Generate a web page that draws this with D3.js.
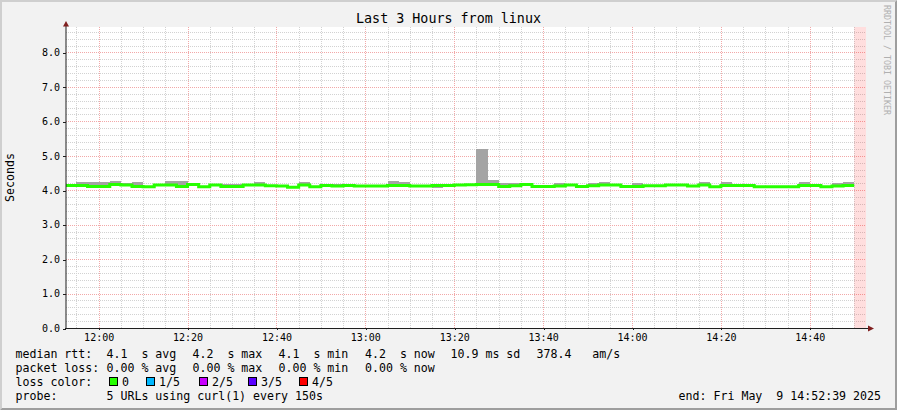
<!DOCTYPE html>
<html><head><meta charset="utf-8">
<script src="https://cdn.jsdelivr.net/npm/d3@7"></script>
<style>
html,body{margin:0;padding:0;background:#f2f2f2;}
svg{display:block;}
text{font-family:"DejaVu Sans Mono",monospace;}
</style></head><body>
<svg id="chart" width="897" height="410"></svg>
<script>
// ---------------- data ----------------
const chartTitle = "Last 3 Hours from linux";
const yAxisTitle = "Seconds";
const watermark = "RRDTOOL / TOBI OETIKER";
const rangeStart = "2025-05-09 11:52:39";
const rangeEnd = "2025-05-09 14:52:39";
const firstStepStart = "2025-05-09 11:52:30";
const stepSeconds = 150;
const unknownFrom = "2025-05-09 14:50:00";

// median rtt per 150 s step (seconds)
const medianRtt = [
  4.14,4.14,4.11,4.11,4.17,4.15,4.11,4.10,4.15,4.15,
  4.11,4.17,4.10,4.15,4.11,4.11,4.15,4.15,4.13,4.12,
  4.09,4.15,4.10,4.14,4.12,4.14,4.12,4.12,4.12,4.14,
  4.14,4.12,4.12,4.14,4.14,4.15,4.16,4.17,4.17,4.11,
  4.13,4.17,4.11,4.11,4.12,4.15,4.11,4.13,4.15,4.15,
  4.11,4.11,4.13,4.13,4.15,4.15,4.12,4.15,4.10,4.14,
  4.14,4.14,4.10,4.10,4.10,4.10,4.14,4.14,4.10,4.12,
  4.14
];
// smoke: highest and lowest rtt of the 5 probes per step
const smokeMax = [
  4.14,4.25,4.25,4.25,4.28,4.20,4.25,4.10,4.15,4.28,
  4.28,4.17,4.10,4.15,4.19,4.19,4.15,4.24,4.13,4.12,
  4.09,4.24,4.10,4.14,4.17,4.14,4.12,4.12,4.12,4.27,
  4.23,4.12,4.12,4.14,4.14,4.15,4.16,5.20,4.29,4.20,
  4.21,4.17,4.11,4.11,4.20,4.15,4.11,4.20,4.25,4.15,
  4.11,4.20,4.13,4.13,4.15,4.15,4.12,4.25,4.10,4.25,
  4.14,4.14,4.10,4.10,4.10,4.10,4.25,4.14,4.10,4.21,
  4.25
];
const smokeMin = [
  4.14,4.14,4.11,4.11,4.17,4.15,4.11,4.10,4.15,4.15,
  4.11,4.17,4.10,4.15,4.11,4.11,4.15,4.15,4.13,4.12,
  4.09,4.15,4.10,4.14,4.12,4.14,4.12,4.12,4.12,4.14,
  4.14,4.12,4.12,4.07,4.14,4.15,4.16,4.17,4.17,4.11,
  4.13,4.17,4.11,4.11,4.12,4.15,4.11,4.13,4.15,4.15,
  4.11,4.11,4.13,4.13,4.15,4.15,4.12,4.15,4.10,4.14,
  4.14,4.14,4.10,4.10,4.10,4.10,4.14,4.14,4.10,4.12,
  4.08
];
const yTickValues = [0,1,2,3,4,5,6,7,8];
const xTickLabels = ["12:00","12:20","12:40","13:00","13:20","13:40","14:00","14:20","14:40"];
const lossLabels = ["0","1/5","2/5","3/5","4/5"];
const lossColors = ["#26ff00","#00b8ff","#c800ff","#5a00ff","#ff0000"];

const rttRow = [
  ["median rtt:", 15.5],
  ["4.1  s avg", 106.5],
  ["4.2  s max", 192.5],
  ["4.1  s min", 278.5],
  ["4.2  s now", 365],
  ["10.9 ms sd", 450.5],
  ["378.4   am/s", 536.5]
];
const lossRow = [
  ["packet loss:", 15.5],
  ["0.00 % avg", 106.5],
  ["0.00 % max", 192.5],
  ["0.00 % min", 278.5],
  ["0.00 % now", 365]
];
const probeLabel = "probe:";
const probeText = "5 URLs using curl(1) every 150s";
const endText = "end: Fri May  9 14:52:39 2025";

// ---------------- drawing ----------------
const W = 897, H = 410;
const pL = 66, pR = 866, pT = 27, pB = 328;
const parse = d3.timeParse("%Y-%m-%d %H:%M:%S");
const t0 = parse(rangeStart), t1 = parse(rangeEnd);
const x = d3.scaleTime().domain([t0, t1]).range([pL, pR]);
const y = d3.scaleLinear().domain([0, 8.74]).range([pB, pT]);

const svg = d3.select("#chart");
svg.append("rect").attr("width", W).attr("height", H).attr("fill", "#f2f2f2");
svg.append("polygon").attr("points", `0,0 ${W},0 ${W-2},2 2,2 2,${H-2} 0,${H}`).attr("fill", "#cfcfcf");
svg.append("polygon").attr("points", `${W},${H} 0,${H} 2,${H-2} ${W-2},${H-2} ${W-2},2 ${W},0`).attr("fill", "#9e9e9e");

svg.append("rect").attr("x", pL).attr("y", pT).attr("width", pR-pL).attr("height", pB-pT).attr("fill", "#ffffff");

const grid = svg.append("g").attr("shape-rendering", "crispEdges");
const px = v => Math.round(v) + 0.5;
const minorColor = "#d2d2d2", majorColor = "#f2a8a8";
const minorY = d3.range(1, 44).filter(i => i % 5 !== 0).map(i => i * 0.2);
grid.selectAll(".hmin").data(minorY).join("line")
  .attr("x1", pL).attr("x2", pR)
  .attr("y1", d => px(y(d))).attr("y2", d => px(y(d)))
  .attr("stroke", minorColor).attr("stroke-dasharray", "1,1");
const tickDates = xTickLabels.map(s => parse("2025-05-09 " + s + ":00"));
const isMajor = d => tickDates.some(t => +t === +d);
const minorX = d3.timeMinute.every(5).range(t0, t1).filter(d => !isMajor(d));
grid.selectAll(".vmin").data(minorX).join("line")
  .attr("y1", pT).attr("y2", pB)
  .attr("x1", d => px(x(d))).attr("x2", d => px(x(d)))
  .attr("stroke", minorColor).attr("stroke-dasharray", "1,1");
grid.selectAll(".hmaj").data(yTickValues.filter(v => v > 0)).join("line")
  .attr("x1", pL).attr("x2", pR)
  .attr("y1", d => px(y(d))).attr("y2", d => px(y(d)))
  .attr("stroke", majorColor).attr("stroke-dasharray", "1,1");
grid.selectAll(".vmaj").data(tickDates).join("line")
  .attr("y1", pT).attr("y2", pB)
  .attr("x1", d => px(x(d))).attr("x2", d => px(x(d)))
  .attr("stroke", majorColor).attr("stroke-dasharray", "1,1");

svg.append("clipPath").attr("id", "clip").append("rect")
  .attr("x", pL).attr("y", pT).attr("width", pR-pL).attr("height", pB-pT);
const dataG = svg.append("g").attr("clip-path", "url(#clip)");
const s0 = parse(firstStepStart);
const steps = medianRtt.map((m, i) => ({
  t: new Date(+s0 + i * stepSeconds * 1000),
  e: new Date(+s0 + (i + 1) * stepSeconds * 1000),
  med: m, hi: smokeMax[i], lo: smokeMin[i]
}));
dataG.selectAll(".smoke").data(steps.filter(d => d.hi > d.lo)).join("rect")
  .attr("shape-rendering", "crispEdges")
  .attr("x", d => x(d.t)).attr("width", d => x(d.e) - x(d.t))
  .attr("y", d => y(d.hi)).attr("height", d => y(d.lo) - y(d.hi))
  .attr("fill", "#a4a4a4");
dataG.append("rect").attr("x", x(parse(unknownFrom))).attr("y", pT)
  .attr("width", pR - x(parse(unknownFrom))).attr("height", pB - pT)
  .attr("fill", "#ff0000").attr("fill-opacity", 0.13);
const pts = steps.map(d => [x(d.t), y(d.med)]);
const lastStep = steps[steps.length - 1];
pts.push([x(lastStep.e), y(lastStep.med)]);
dataG.append("path").attr("d", d3.line().curve(d3.curveStepAfter)(pts))
  .attr("fill", "none").attr("stroke", lossColors[0]).attr("stroke-width", 3);

const yAxis = d3.axisLeft(y).tickValues(yTickValues).tickFormat(d3.format(".1f")).tickSize(3).tickPadding(3);
const gy = svg.append("g").attr("transform", `translate(${pL},0)`).call(yAxis);
gy.select(".domain").remove();
gy.selectAll(".tick line").attr("stroke", "#1f1f1f").attr("shape-rendering", "crispEdges")
  .attr("transform", "translate(0,0.5)");
gy.selectAll(".tick text").attr("font-size", "10px").attr("fill", "#000")
  .attr("font-family", "DejaVu Sans Mono");

const xAxis = d3.axisBottom(x).tickValues(tickDates).tickFormat(d3.timeFormat("%H:%M")).tickSize(2).tickPadding(3.5);
const gx = svg.append("g").attr("transform", `translate(0,${pB})`).call(xAxis);
gx.select(".domain").remove();
gx.selectAll(".tick line").attr("stroke", "#1f1f1f").attr("shape-rendering", "crispEdges")
  .attr("transform", "translate(0.5,0)");
gx.selectAll(".tick text").attr("font-size", "10px").attr("fill", "#000")
  .attr("font-family", "DejaVu Sans Mono");

svg.append("line").attr("x1", pL).attr("x2", pL).attr("y1", pB + 1).attr("y2", 24)
  .attr("stroke", "#1f1f1f").attr("stroke-width", 1);
svg.append("line").attr("x1", pL - 1).attr("x2", 869).attr("y1", pB + 0.5).attr("y2", pB + 0.5)
  .attr("stroke", "#1f1f1f").attr("stroke-width", 1).attr("shape-rendering", "crispEdges");
svg.append("polygon").attr("points", `${pL},21 ${pL-3},26.5 ${pL+3},26.5`).attr("fill", "#801f1f");
svg.append("polygon").attr("points", `874,${pB+0.5} 868,${pB-2.5} 868,${pB+3.5}`).attr("fill", "#801f1f");

svg.append("text").attr("x", 448.5).attr("y", 23).attr("text-anchor", "middle")
  .attr("font-size", "13.36px").attr("fill", "#000").text(chartTitle);
svg.append("text").attr("transform", "translate(14,177.5) rotate(-90)").attr("text-anchor", "middle")
  .attr("font-size", "11.6px").attr("fill", "#000").text(yAxisTitle);
svg.append("text").attr("transform", "translate(883.5,5) rotate(90)")
  .attr("font-size", "8.3px").attr("fill", "#b0b0b0").text(watermark);

const leg = svg.append("g").attr("font-size", "11.6px").attr("fill", "#000");
const row = (items, yy) => leg.selectAll(null).data(items).join("text")
  .attr("x", d => d[1]).attr("y", yy)
  .style("white-space", "pre").text(d => d[0]);
row(rttRow, 358);
row(lossRow, 372);
row([["loss color:", 15.5]], 386);
const boxX = [109, 146, 199, 248, 299];
leg.selectAll(".lbox").data(lossColors).join("rect")
  .attr("x", (d, i) => boxX[i] + 0.5).attr("y", 377.5).attr("width", 8).attr("height", 8)
  .attr("fill", d => d).attr("stroke", "#000").attr("stroke-width", 1).attr("shape-rendering", "crispEdges");
leg.selectAll(".llab").data(lossLabels).join("text")
  .attr("x", (d, i) => boxX[i] + 13).attr("y", 386).text(d => d);
row([[probeLabel, 15.5], [probeText, 106.5]], 400);
leg.append("text").attr("x", 881).attr("y", 400).attr("text-anchor", "end")
  .style("white-space", "pre").text(endText);
</script>
</body></html>
